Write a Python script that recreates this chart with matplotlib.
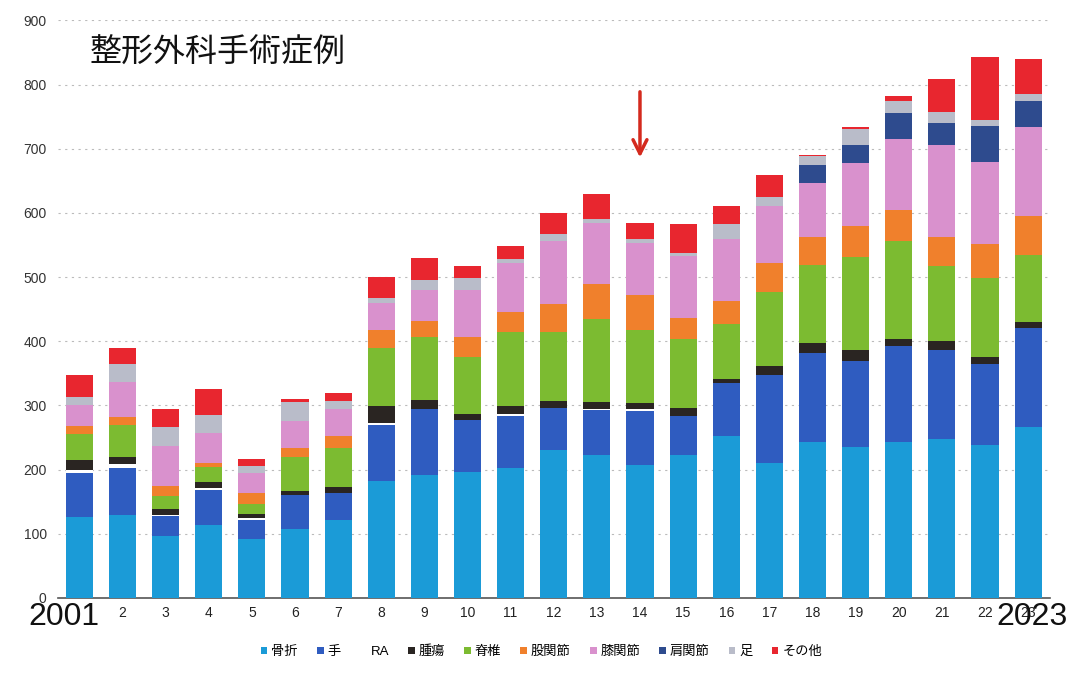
import numpy as np
import matplotlib.pyplot as plt
from matplotlib.patches import Patch

plt.rcParams['font.family'] = ['Liberation Sans', 'Noto Sans CJK JP']

years = list(range(2001, 2024))
xlabels = [''] + [str(i) for i in range(2, 24)]

categories = ["骨折", "手", "RA", "腫瘍", "脊椎", "股関節", "膝関節", "肩関節", "足", "その他"]

fracture = [126, 129, 96, 113, 92, 108, 121, 183, 192, 197, 202, 231, 223, 207, 223, 253, 211, 243, 236, 243, 248, 238, 266]
hand     = [68, 74, 31, 55, 29, 52, 43, 86, 103, 80, 82, 65, 70, 84, 61, 82, 136, 138, 134, 149, 138, 126, 155]
ra       = [5, 5, 3, 4, 3, 0, 0, 4, 0, 0, 3, 0, 2, 3, 0, 0, 0, 0, 0, 0, 0, 0, 0]
tumor    = [16, 11, 9, 8, 7, 7, 9, 26, 13, 10, 12, 11, 10, 10, 12, 6, 14, 16, 16, 11, 15, 12, 9]
spine    = [41, 50, 20, 24, 15, 53, 61, 90, 98, 88, 115, 108, 130, 113, 107, 86, 115, 122, 145, 153, 117, 122, 104]
hip      = [12, 13, 15, 7, 17, 14, 19, 28, 26, 31, 32, 43, 54, 55, 34, 36, 46, 44, 48, 48, 44, 54, 61]
knee     = [32, 55, 63, 46, 32, 42, 42, 43, 48, 74, 76, 98, 95, 81, 96, 97, 88, 84, 98, 111, 144, 128, 139]
shoulder = [0, 0, 0, 0, 0, 0, 0, 0, 0, 0, 0, 0, 0, 0, 0, 0, 0, 27, 29, 41, 34, 56, 41]
foot     = [13, 27, 30, 28, 10, 29, 12, 8, 15, 18, 6, 11, 6, 6, 4, 23, 15, 14, 24, 18, 17, 9, 10]
other    = [34, 25, 28, 40, 12, 5, 13, 32, 34, 19, 20, 33, 39, 26, 45, 27, 34, 2, 4, 8, 52, 98, 55]

series = [fracture, hand, ra, tumor, spine, hip, knee, shoulder, foot, other]
colors = ['#1b9bd7', '#2f5cc0', '#ffffff', '#2a2522', '#7cbb31', '#f0802c',
          '#d991cd', '#2e4b8e', '#b9bcc9', '#e8262f']

fig = plt.figure(figsize=(10.7, 6.74), dpi=100)
ax = fig.add_axes([0.054, 0.1128, 0.927, 0.857])

x = np.arange(len(years))
bottom = np.zeros(len(years))
for vals, c in zip(series, colors):
    ax.bar(x, vals, 0.63, bottom=bottom, color=c, linewidth=0, zorder=3)
    bottom += np.array(vals)

ax.set_ylim(0, 900)
ax.set_xlim(-0.5, len(years) - 0.5)
ax.set_yticks(range(0, 901, 100))
ax.set_xticks(x)
ax.set_xticklabels(xlabels, fontsize=10, color='#222222')
ax.tick_params(axis='y', length=0, labelsize=10, labelcolor='#333333', pad=8)
ax.tick_params(axis='x', length=0, pad=6)
ax.yaxis.grid(True, color='#bbbbbb', linestyle=(0, (2, 4)), linewidth=0.8, zorder=0)
for s in ['top', 'right', 'left']:
    ax.spines[s].set_visible(False)
ax.spines['bottom'].set_color('#555555')
ax.spines['bottom'].set_linewidth(1.2)

# large year labels at both ends
big = dict(fontsize=23, ha='center', va='top', color='#111111')
ax.annotate('2001', xy=(0, 0), xycoords=('data', 'axes fraction'),
            xytext=(-11, -3), textcoords='offset points', **big)
ax.annotate('2023', xy=(len(years) - 1, 0), xycoords=('data', 'axes fraction'),
            xytext=(2.5, -3), textcoords='offset points', **big)

fig.text(90 / 1070, 1 - 53 / 674, '整形外科手術症例', fontsize=23,
         family=['Noto Sans CJK JP'], va='center', ha='left', color='#111111')

# arrow over 2014
ax.annotate('', xy=(13, 682), xytext=(13, 793),
            arrowprops=dict(arrowstyle='->', color='#d42a1e', lw=2.5,
                            mutation_scale=25))

handles = [Patch(facecolor=c, edgecolor='none') for c in colors]
fig.legend(handles, categories, loc='center', bbox_to_anchor=(0.506, 1 - 652 / 674),
           ncol=10, frameon=False, handlelength=0.5, handleheight=0.5,
           handletextpad=0.3, columnspacing=1.45,
           prop={'family': ['Liberation Sans', 'Noto Sans CJK JP'], 'size': 9.5})

fig.savefig('out.png', dpi=100, facecolor='white')
